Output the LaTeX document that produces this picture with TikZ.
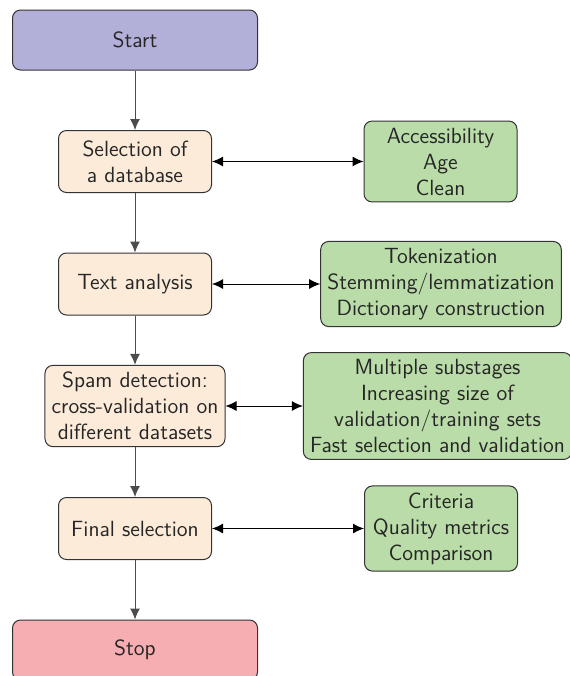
\documentclass[tikz,border=0pt]{standalone}
\usepackage{amsmath}
\usetikzlibrary{arrows.meta}

\definecolor{startfill}{RGB}{178,176,216}
\definecolor{stepfill}{RGB}{253,235,218}
\definecolor{notefill}{RGB}{185,220,168}
\definecolor{stopfill}{RGB}{247,174,178}

\tikzset{
  box/.style={shape=rectangle, draw=black!80, line width=0.5pt, rounded corners=4pt, align=center, text=black!85, font=\sffamily\fontsize{11}{13}\selectfont},
  terminal/.style={box, minimum width=122.5pt, minimum height=30pt},
  stepbox/.style={box, fill=stepfill, minimum width=76.5pt, minimum height=31pt},
  notebox/.style={box, fill=notefill, minimum width=76.5pt, minimum height=40pt},
  flow/.style={-{Latex[length=5.5pt,width=5pt]}, draw=black!70, line width=0.5pt},
  link/.style={{Latex[length=5.5pt,width=5pt]}-{Latex[length=5.5pt,width=5pt]}, line width=0.5pt}
}

\begin{document}
\begin{tikzpicture}[x=0.5pt, y=-0.5pt]
	\useasboundingbox (0,0) rectangle (569,676);
	% main column
	\node[terminal, fill=startfill] (start) at (135, 40) {Start};
	\node[stepbox] (select) at (135, 161.5) {Selection of\\a database};
	\node[stepbox] (text) at (135, 284) {Text analysis};
	\node[stepbox] (spam) at (135, 406) {Spam detection:\\cross-validation on\\different datasets};
	\node[stepbox] (final) at (135, 528.5) {Final selection};
	\node[terminal, fill=stopfill] (stop) at (135, 650) {Stop};
	% side notes
	\node[notebox] (access) at (440.5, 161.5) {Accessibility\\Age\\Clean};
	\node[notebox] (token) at (441, 284) {Tokenization\\Stemming/lemmatization\\Dictionary construction};
	\node[notebox] (multi) at (437.5, 406) {Multiple substages\\Increasing size of\\validation/training sets\\Fast selection and validation};
	\node[notebox] (crit) at (441, 528.5) {Criteria\\Quality metrics\\Comparison};
	% connectors
	\draw[flow] (start) -- (select);
	\draw[flow] (select) -- (text);
	\draw[flow] (text) -- (spam);
	\draw[flow] (spam) -- (final);
	\draw[flow] (final) -- (stop);
	\draw[link] (select) -- (access);
	\draw[link] (text) -- (token);
	\draw[link] (spam) -- (multi);
	\draw[link] (final) -- (crit);
\end{tikzpicture}
\end{document}
